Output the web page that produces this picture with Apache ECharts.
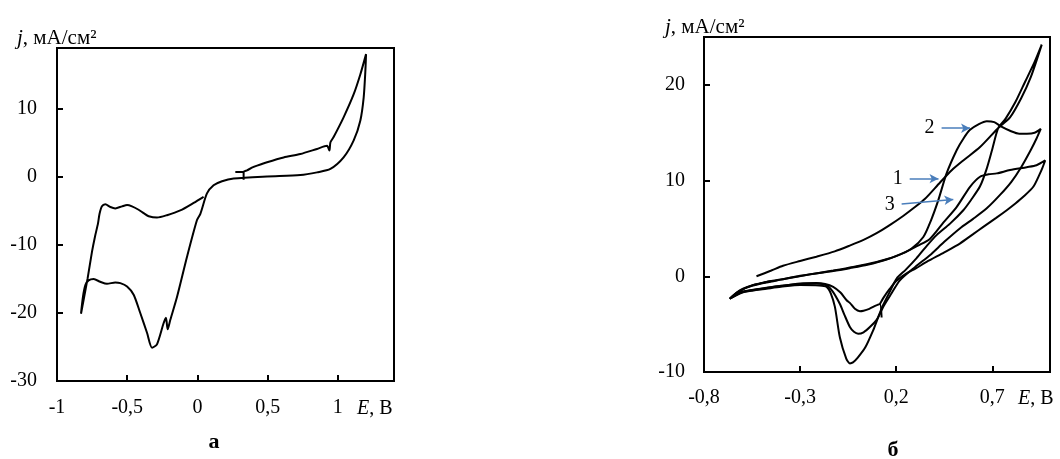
<!DOCTYPE html>
<html>
<head>
<meta charset="utf-8">
<script src="https://cdn.jsdelivr.net/npm/echarts@6/dist/echarts.min.js"></script>
<style>
  html, body { margin: 0; padding: 0; background: #fff; }
  #chart { width: 1060px; height: 459px; }
</style>
</head>
<body>
<div id="chart"></div>
<script>
// panel a: one voltammogram, [E, j]
var cvA = [
  [0.044,-2.9],[-0.027,-3.8],[-0.122,-4.9],[-0.217,-5.6],[-0.288,-5.95],[-0.347,-5.75],[-0.383,-5.3],
  [-0.419,-4.8],[-0.466,-4.3],[-0.501,-4.1],[-0.537,-4.3],[-0.585,-4.6],[-0.62,-4.4],[-0.656,-4.0],
  [-0.68,-4.3],[-0.697,-5.4],[-0.708,-6.8],[-0.73,-8.8],[-0.751,-11.0],[-0.782,-14.9],[-0.81,-18.0],
  [-0.829,-20.1],[-0.815,-17.6],[-0.798,-15.9],[-0.775,-15.2],[-0.739,-15.0],[-0.692,-15.4],
  [-0.644,-15.7],[-0.585,-15.5],[-0.549,-15.6],[-0.501,-16.1],[-0.454,-17.3],[-0.407,-20.0],
  [-0.359,-22.9],[-0.323,-25.1],[-0.288,-24.6],[-0.241,-21.5],[-0.224,-20.7],[-0.212,-22.4],
  [-0.193,-21.0],[-0.145,-17.6],[-0.074,-11.7],[-0.003,-6.3],[0.021,-5.4],[0.068,-2.4],[0.115,-1.2],
  [0.175,-0.6],[0.258,-0.2],[0.496,0.1],[0.733,0.3],[0.852,0.7],[0.947,1.2],[1.041,2.9],[1.113,5.4],
  [1.16,8.3],[1.184,11.7],[1.196,15.6],[1.201,18.1],[1.16,15.1],[1.113,12.2],[1.041,8.8],[0.97,5.9],
  [0.947,5.1],[0.94,3.9],[0.923,4.6],[0.852,4.15],[0.733,3.4],[0.614,2.9],[0.496,2.2],[0.425,1.7],
  [0.4,1.5],[0.353,1.0],[0.329,0.75],[0.329,-0.4],[0.329,0.75],[0.27,0.75]
];

// panel б: three voltammograms
var cv1 = [
  [-0.527,0.0],[-0.45,0.6],[-0.389,1.1],[-0.3,1.6],[-0.215,2.05],[-0.12,2.6],[-0.042,3.2],[0.03,3.8],
  [0.098,4.5],[0.17,5.4],[0.236,6.3],[0.289,7.1],[0.35,8.1],[0.428,9.8],[0.49,11.1],[0.549,12.1],
  [0.636,13.5],[0.731,15.5],[0.792,16.6],[0.85,18.6],[0.9,20.8],[0.957,24.2],
  [0.92,22.4],[0.87,20.3],[0.82,18.2],[0.77,16.5],[0.731,15.5],[0.7,13.3],[0.67,11.2],[0.636,9.4],
  [0.59,8.0],[0.549,6.9],[0.48,5.5],[0.41,4.3],[0.36,3.2],[0.306,1.9],[0.25,0.7],[0.202,-0.24],
  [0.167,-1.6],[0.132,-3.0],[0.1,-4.6],[0.08,-5.65],[0.04,-7.4],[0.0,-8.5],[-0.025,-9.0],[-0.041,-9.1],
  [-0.06,-8.6],[-0.093,-6.4],[-0.119,-3.2],[-0.14,-1.8],[-0.162,-1.1],[-0.2,-0.95],[-0.3,-0.9],
  [-0.4,-1.1],[-0.475,-1.3],[-0.55,-1.5],[-0.6,-1.7],[-0.666,-2.34],[-0.63,-1.7],[-0.597,-1.3],
  [-0.55,-0.95],[-0.475,-0.6],[-0.45,-0.5]
];
var cv2 = [
  [-0.666,-2.34],[-0.62,-1.6],[-0.55,-0.95],[-0.45,-0.5],[-0.37,-0.24],[-0.25,0.2],[-0.128,0.6],
  [-0.024,0.97],[0.098,1.5],[0.2,2.1],[0.28,2.9],[0.341,4.1],[0.38,5.8],[0.419,7.96],[0.462,10.75],
  [0.515,13.2],[0.55,14.4],[0.584,15.3],[0.63,15.9],[0.671,16.2],[0.71,16.1],[0.75,15.6],[0.792,15.2],
  [0.84,14.9],[0.88,14.9],[0.92,15.0],[0.952,15.4],
  [0.93,14.4],[0.9,13.2],[0.85,11.4],[0.8,9.9],[0.74,8.5],[0.671,7.1],[0.6,6.0],[0.531,5.0],[0.45,3.6],
  [0.375,2.2],[0.3,1.0],[0.219,-0.42],[0.175,-1.8],[0.132,-3.2],[0.1,-4.5],[0.063,-5.3],[0.03,-5.85],
  [0.002,-6.0],[-0.02,-5.8],[-0.041,-5.3],[-0.07,-4.0],[-0.093,-2.9],[-0.13,-1.6],[-0.162,-0.94],
  [-0.215,-0.75],[-0.3,-0.8],[-0.37,-0.94],[-0.475,-1.2],[-0.55,-1.45],[-0.6,-1.65],[-0.666,-2.34]
];
var cv3 = [
  [0.124,-4.3],[0.115,-2.9],[0.09,-3.1],[0.06,-3.4],[0.03,-3.6],[0.011,-3.65],[-0.015,-3.4],
  [-0.04,-2.8],[-0.058,-2.5],[-0.09,-1.7],[-0.128,-1.1],[-0.17,-0.8],[-0.215,-0.7],[-0.3,-0.75],
  [-0.4,-1.0],[-0.5,-1.3],[-0.6,-1.6],[-0.666,-2.34],
  [-0.63,-1.75],[-0.597,-1.35],[-0.55,-1.0],[-0.475,-0.65],[-0.4,-0.35],[-0.3,0.05],[-0.2,0.35],
  [-0.128,0.55],[-0.042,0.85],[0.05,1.2],[0.15,1.75],[0.25,2.55],[0.313,3.2],[0.375,3.9],[0.445,5.6],
  [0.515,7.26],[0.584,9.35],[0.636,10.4],[0.68,10.65],[0.723,10.75],[0.792,11.1],[0.879,11.4],
  [0.93,11.6],[0.975,12.1],
  [0.96,11.3],[0.948,10.75],[0.913,9.35],[0.861,8.3],[0.82,7.6],[0.775,6.9],[0.72,6.1],[0.653,5.16],
  [0.6,4.4],[0.531,3.42],[0.45,2.5],[0.358,1.5],[0.3,0.8],[0.254,0.3],[0.2,-0.5],[0.167,-1.3],
  [0.135,-2.2],[0.115,-2.9]
];

// curve number arrows on panel б: [name, start, end]
var arrowNames = ['2', '1', '3'];
var arrowFrom = [[0.436, 15.47], [0.27, 10.2], [0.228, 7.54]];
var arrowTo = [[0.584, 15.47], [0.42, 10.2], [0.497, 8.03]];

var xTicksA = [-1, -0.5, 0, 0.5, 1];
var yTicksA = [-30, -20, -10, 0, 10];
var xTicksB = [-0.8, -0.3, 0.2, 0.7];
var yTicksB = [-10, 0, 10, 20];

var chart = echarts.init(document.getElementById('chart'));
var serif = 'Liberation Serif';

function comma(v) {
  return String(v).replace('.', ',');
}

function valueAxis(grid, min, max, ticks, extra) {
  var ax = {
    type: 'value',
    gridIndex: grid,
    min: min,
    max: max,
    axisLine: { show: true, onZero: false, lineStyle: { color: '#000', width: 2 } },
    axisTick: { show: true, inside: true, length: 6, customValues: ticks, lineStyle: { color: '#000', width: 2 } },
    axisLabel: { customValues: ticks, formatter: comma, color: '#000', fontSize: 20, fontFamily: serif },
    splitLine: { show: false }
  };
  Object.assign(ax.axisLabel, extra);
  return ax;
}

var arrowData = arrowNames.map(function (n, i) {
  return [{ name: n, coord: arrowFrom[i] }, { coord: arrowTo[i] }];
});

var line = { color: '#000', width: 2 };

var option = {
  animation: false,
  grid: [
    { left: 57, top: 48, width: 337, height: 333, show: true, borderColor: '#000', borderWidth: 2 },
    { left: 704, top: 37, width: 346, height: 335, show: true, borderColor: '#000', borderWidth: 2 }
  ],
  xAxis: [
    valueAxis(0, -1, 1.4, xTicksA, { margin: 17 }),
    valueAxis(1, -0.8, 1.0, xTicksB, { margin: 16 })
  ],
  yAxis: [
    valueAxis(0, -30, 19, yTicksA, { margin: 20 }),
    valueAxis(1, -10, 25, yTicksB, { margin: 19 })
  ],
  series: [
    { type: 'line', xAxisIndex: 0, yAxisIndex: 0, data: cvA, showSymbol: false, smooth: 0.25, lineStyle: line },
    {
      type: 'line', xAxisIndex: 1, yAxisIndex: 1, data: cv1, showSymbol: false, smooth: 0.25, lineStyle: line,
      markLine: {
        silent: true,
        symbol: ['none', 'arrow'],
        symbolSize: [7, 9],
        lineStyle: { color: '#4a7ebb', width: 1.5, type: 'solid' },
        label: { show: true, position: 'start', formatter: '{b}', distance: 7, color: '#000', fontSize: 20, fontFamily: serif },
        data: arrowData
      }
    },
    { type: 'line', xAxisIndex: 1, yAxisIndex: 1, data: cv2, showSymbol: false, smooth: 0.25, lineStyle: line },
    { type: 'line', xAxisIndex: 1, yAxisIndex: 1, data: cv3, showSymbol: false, smooth: 0.25, lineStyle: line }
  ],
  graphic: [
    { type: 'text', x: 17, y: 38, style: { text: '{i|j}, мА/см²', fill: '#000', fontSize: 21, fontFamily: serif, verticalAlign: 'middle',
      rich: { i: { fontStyle: 'italic', fontSize: 21, fontFamily: serif } } } },
    { type: 'text', x: 665, y: 27, style: { text: '{i|j}, мА/см²', fill: '#000', fontSize: 21, fontFamily: serif, verticalAlign: 'middle',
      rich: { i: { fontStyle: 'italic', fontSize: 21, fontFamily: serif } } } },
    { type: 'text', x: 357, y: 409, style: { text: '{i|E}, В', fill: '#000', fontSize: 20, fontFamily: serif, verticalAlign: 'middle',
      rich: { i: { fontStyle: 'italic', fontSize: 20, fontFamily: serif } } } },
    { type: 'text', x: 1018, y: 399, style: { text: '{i|E}, В', fill: '#000', fontSize: 20, fontFamily: serif, verticalAlign: 'middle',
      rich: { i: { fontStyle: 'italic', fontSize: 20, fontFamily: serif } } } },
    { type: 'text', x: 214, y: 442, style: { text: 'а', fill: '#000', fontSize: 22, fontWeight: 'bold', fontFamily: serif, align: 'center', verticalAlign: 'middle' } },
    { type: 'text', x: 893, y: 450, style: { text: 'б', fill: '#000', fontSize: 22, fontWeight: 'bold', fontFamily: serif, align: 'center', verticalAlign: 'middle' } }
  ]
};

chart.setOption(option);
</script>
</body>
</html>
